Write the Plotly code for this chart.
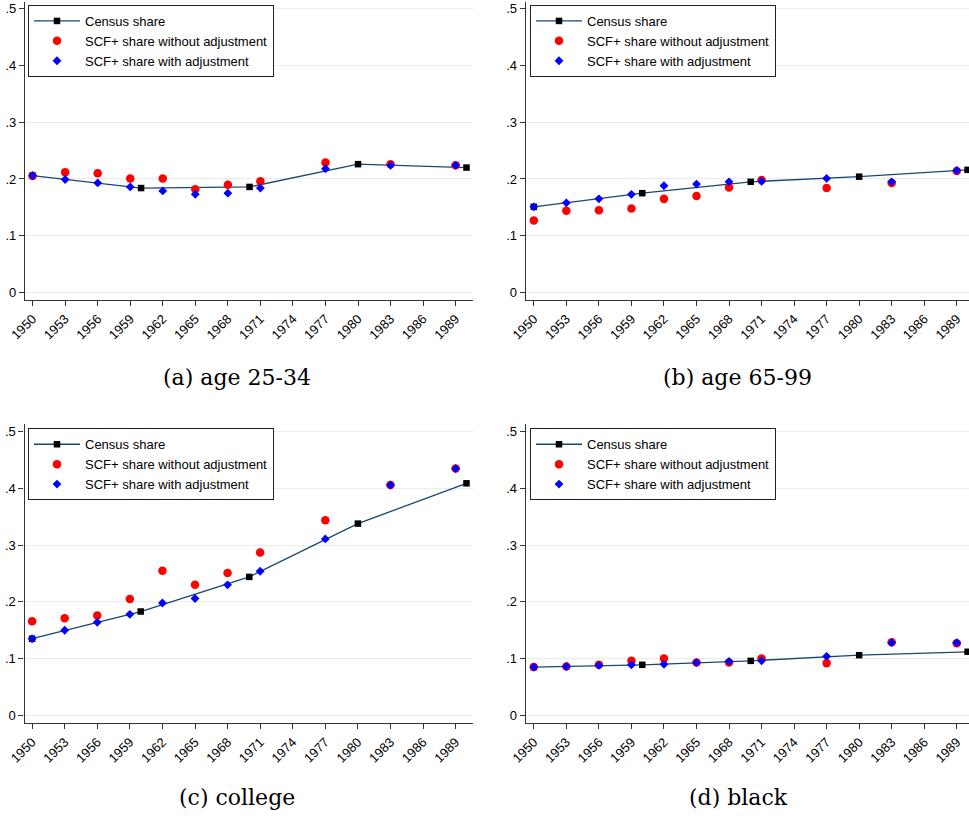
import plotly.graph_objects as go

# ---------------- data ----------------
years_scf = [1950, 1953, 1956, 1959, 1962, 1965, 1968, 1971, 1977, 1983, 1989]
years_census = [1950, 1960, 1970, 1980, 1990]

a_census = [0.206, 0.184, 0.186, 0.226, 0.220]
a_raw = [0.205, 0.212, 0.210, 0.201, 0.201, 0.182, 0.190, 0.196, 0.229, 0.226, 0.224]
a_adj = [0.206, 0.199, 0.193, 0.186, 0.179, 0.173, 0.175, 0.184, 0.218, 0.224, 0.224]

b_census = [0.151, 0.175, 0.195, 0.204, 0.216]
b_raw = [0.127, 0.144, 0.145, 0.148, 0.165, 0.170, 0.185, 0.198, 0.184, 0.193, 0.214]
b_adj = [0.151, 0.158, 0.165, 0.173, 0.188, 0.191, 0.195, 0.196, 0.201, 0.195, 0.215]

c_census = [0.135, 0.183, 0.244, 0.338, 0.409]
c_raw = [0.166, 0.171, 0.176, 0.205, 0.255, 0.230, 0.251, 0.287, 0.344, 0.406, 0.435]
c_adj = [0.135, 0.150, 0.164, 0.178, 0.198, 0.206, 0.230, 0.254, 0.311, 0.406, 0.435]

d_census = [0.085, 0.089, 0.096, 0.106, 0.112]
d_raw = [0.085, 0.086, 0.089, 0.096, 0.100, 0.093, 0.093, 0.100, 0.092, 0.129, 0.127]
d_adj = [0.085, 0.086, 0.088, 0.089, 0.090, 0.093, 0.095, 0.096, 0.104, 0.128, 0.128]

captions = ["(a) age 25-34", "(b) age 65-99", "(c) college", "(d) black"]
series_names = ["Census share", "SCF+ share without adjustment", "SCF+ share with adjustment"]
x_ticks = list(range(1950, 1990, 3))
y_ticks = [0, 0.1, 0.2, 0.3, 0.4, 0.5]
y_ticklabels = ["0", ".1", ".2", ".3", ".4", ".5"]

panels = [
    (a_census, a_raw, a_adj),
    (b_census, b_raw, b_adj),
    (c_census, c_raw, c_adj),
    (d_census, d_raw, d_adj),
]

# ---------------- layout geometry ----------------
W, H = 969, 818
NAVY = "#1a476f"

# pixel boxes: (left, right, top, bottom)
boxes = [
    (25, 473, 2, 300),
    (525.7, 969, 2, 300),
    (24.5, 473, 424, 723.3),
    (525.7, 969, 424, 723.3),
]
xranges = [
    [1949.3, 1990.6],
    [1949.25, 1990.13],
    [1949.3, 1990.6],
    [1949.25, 1990.13],
]
yranges = [
    [-0.0128, 0.5111],
    [-0.0128, 0.5111],
    [-0.0141, 0.5136],
    [-0.0141, 0.5136],
]
legend_pos = [(28, 5), (530, 5), (28, 428.3), (530, 428.3)]
caption_pos = [(237, 378), (737, 378), (237, 797), (738, 797)]

fig = go.Figure()
layout = dict(
    width=W, height=H,
    margin=dict(l=0, r=0, t=0, b=0, autoexpand=False),
    paper_bgcolor="white", plot_bgcolor="white",
    showlegend=True,
    font=dict(family="Liberation Sans, Arial, sans-serif", size=12, color="black"),
    annotations=[],
)

for i, (cen, raw, adj) in enumerate(panels):
    n = "" if i == 0 else str(i + 1)
    xa, ya = "x" + n, "y" + n
    lg = "legend" + n
    fig.add_trace(go.Scatter(
        x=years_census, y=cen, mode="lines+markers", name=series_names[0],
        line=dict(color=NAVY, width=1.3),
        marker=dict(symbol="square", size=6.5, color="black"),
        xaxis=xa, yaxis=ya, legend=lg, cliponaxis=False,
    ))
    fig.add_trace(go.Scatter(
        x=years_scf, y=raw, mode="markers", name=series_names[1],
        marker=dict(symbol="circle", size=8.5, color="#ff0000"),
        xaxis=xa, yaxis=ya, legend=lg, cliponaxis=False,
    ))
    fig.add_trace(go.Scatter(
        x=years_scf, y=adj, mode="markers", name=series_names[2],
        marker=dict(symbol="diamond", size=6.8, color="#0000ff"),
        xaxis=xa, yaxis=ya, legend=lg, cliponaxis=False,
    ))

    l, r, t, b = boxes[i]
    layout["xaxis" + n] = dict(
        domain=[l / W, min(r / W, 1.0)], range=xranges[i], anchor=ya,
        tickmode="array", tickvals=x_ticks, ticktext=[str(v) for v in x_ticks],
        tickangle=-45, ticks="outside", ticklen=5, tickwidth=1, tickcolor="#333",
        showline=True, linecolor="#333", linewidth=1.2, automargin=False,
        showgrid=False, zeroline=False, fixedrange=True,
        tickfont=dict(size=13, color="black"),
    )
    layout["yaxis" + n] = dict(
        domain=[1 - b / H, 1 - t / H], range=yranges[i], anchor=xa,
        tickmode="array", tickvals=y_ticks, ticktext=y_ticklabels,
        ticks="outside", ticklen=5, tickwidth=1, tickcolor="#333",
        showline=True, linecolor="#333", linewidth=1.2, automargin=False,
        showgrid=True, gridcolor="#e6eef1", gridwidth=1, zeroline=False,
        fixedrange=True, tickfont=dict(size=13, color="black"),
    )
    lx, ly = legend_pos[i]
    layout[lg] = dict(
        x=lx / W, y=1 - ly / H, xanchor="left", yanchor="top",
        xref="paper", yref="paper",
        bgcolor="white", bordercolor="#222", borderwidth=1,
        font=dict(size=13, color="black", family="Liberation Sans, Arial, sans-serif"),
        itemwidth=46, tracegroupgap=0,
    )
    cx, cy = caption_pos[i]
    layout["annotations"].append(dict(
        text=captions[i], x=cx / W, y=1 - cy / H, xref="paper", yref="paper",
        xanchor="center", yanchor="middle", showarrow=False,
        font=dict(family="DejaVu Serif, serif", size=22, color="black"),
    ))

fig.update_layout(**layout)
fig.write_html("out.html")
